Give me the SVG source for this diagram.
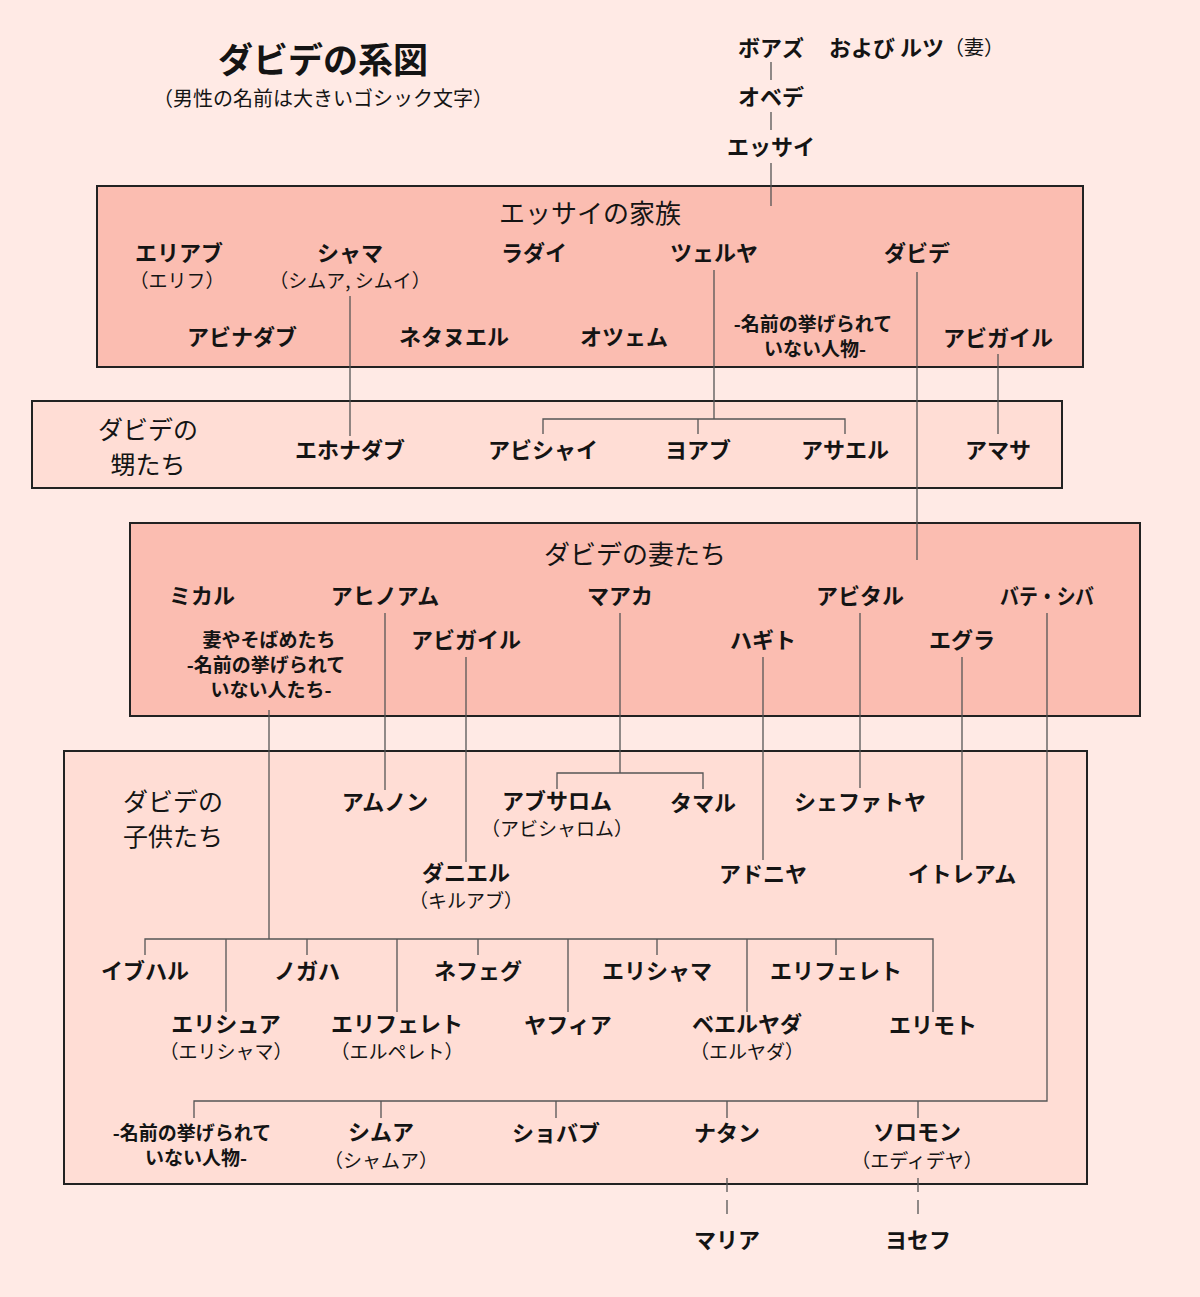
<svg xmlns="http://www.w3.org/2000/svg" width="1200" height="1297" viewBox="0 0 1200 1297">
<style>
text{font-family:"Noto Sans CJK JP","Noto Sans",sans-serif;fill:#141414;text-anchor:middle;dominant-baseline:central}
.n{font-size:22px;font-weight:700}
.s{font-size:19px;font-weight:400}
.h{font-size:26px;font-weight:400}
.h2{font-size:25px;font-weight:400}
.box{stroke:#222;stroke-width:2}
.dark{fill:#FBBDB1}
.light{fill:#FFDDD5}
.ln{stroke:#555;stroke-width:1.3;fill:none}
.dash{stroke:#555;stroke-width:1.3;fill:none;stroke-dasharray:14 8}
</style>
<rect width="1200" height="1297" fill="#FFEAE5"/>
<g id="boxes">
<rect id="box-jesse" class="box dark" x="97" y="186" width="986" height="181"/>
<rect id="box-nephews" class="box light" x="32" y="401" width="1030" height="87"/>
<rect id="box-wives" class="box dark" x="130" y="523" width="1010" height="193"/>
<rect id="box-children" class="box light" x="64" y="751" width="1023" height="433"/>
</g>
<g id="connectors">
<path class="ln" d="M771 62V80M771 112V130M771 163V206"/>
<path class="ln" d="M350 296V436"/>
<path class="ln" d="M714 270V419M543 434V419H845V434M698 419V434"/>
<path class="ln" d="M917 272V560"/>
<path class="ln" d="M998 354V434"/>
<path class="ln" d="M269 710V939"/>
<path class="ln" d="M385 613V790"/>
<path class="ln" d="M466 657V862"/>
<path class="ln" d="M620 613V773M557 789V773H703V789"/>
<path class="ln" d="M763 657V860"/>
<path class="ln" d="M860 613V788"/>
<path class="ln" d="M962 657V860"/>
<path class="ln" d="M1047 613V1101H194V1118M381 1101V1118M556 1101V1118M727 1101V1118M918 1101V1118"/>
<path class="ln" d="M145 955V939H933V1012M307 939V955M478 939V955M657 939V955M836 939V955M226 939V1012M397 939V1012M568 939V1012M747 939V1012"/>
<path class="dash" d="M727 1178V1216M918 1178V1216"/>
</g>
<g id="labels" transform="translate(0,-2)">
<g id="title">
<text x="323" y="59" style="font-size:35px;font-weight:700">ダビデの系図</text>
<text x="323" y="99" style="font-size:20px">（男性の名前は大きいゴシック文字）</text>
</g>
<g id="ancestors">
<g id="boaz"><text class="n" x="771" y="48">ボアズ</text><text class="n" x="829" y="48" style="text-anchor:start">および ルツ<tspan font-weight="400" font-size="20">（妻）</tspan></text></g>
<g id="obed"><text class="n" x="771" y="97">オベデ</text></g>
<g id="jesse"><text class="n" x="771" y="147">エッサイ</text></g>
</g>
<g id="jesse-family">
<text class="h" x="590" y="213">エッサイの家族</text>
<g id="eliab"><text class="n" x="179" y="253">エリアブ</text><text class="s" x="177" y="281">（エリフ）</text></g>
<g id="shammah"><text class="n" x="350" y="253">シャマ</text><text class="s" x="350" y="281">（シムア, シムイ）</text></g>
<g id="raddai"><text class="n" x="534" y="253">ラダイ</text></g>
<g id="zeruiah"><text class="n" x="714" y="253">ツェルヤ</text></g>
<g id="david"><text class="n" x="917" y="253">ダビデ</text></g>
<g id="abinadab"><text class="n" x="242" y="337">アビナダブ</text></g>
<g id="nethanel"><text class="n" x="454" y="337">ネタヌエル</text></g>
<g id="ozem"><text class="n" x="624" y="337">オツェム</text></g>
<g id="unnamed1"><text class="n" x="813" y="324" style="font-size:19px">-名前の挙げられて</text><text class="n" x="815" y="349" style="font-size:19px">いない人物-</text></g>
<g id="abigail1"><text class="n" x="998" y="338">アビガイル</text></g>
</g>
<g id="nephews">
<text class="h2" x="148" y="430">ダビデの</text>
<text class="h2" x="148" y="465">甥たち</text>
<g id="jonadab"><text class="n" x="350" y="450">エホナダブ</text></g>
<g id="abishai"><text class="n" x="543" y="450">アビシャイ</text></g>
<g id="joab"><text class="n" x="698" y="450">ヨアブ</text></g>
<g id="asahel"><text class="n" x="845" y="450">アサエル</text></g>
<g id="amasa"><text class="n" x="998" y="450">アマサ</text></g>
</g>
<g id="wives">
<text class="h" x="635" y="554">ダビデの妻たち</text>
<g id="michal"><text class="n" x="202" y="596">ミカル</text></g>
<g id="ahinoam"><text class="n" x="385" y="596">アヒノアム</text></g>
<g id="maacah"><text class="n" x="620" y="596">マアカ</text></g>
<g id="abital"><text class="n" x="860" y="596">アビタル</text></g>
<g id="bathsheba"><text class="n" x="1047" y="596" textLength="94" lengthAdjust="spacingAndGlyphs">バテ・シバ</text></g>
<g id="concubines"><text class="n" x="269" y="640" style="font-size:19px">妻やそばめたち</text><text class="n" x="266" y="665" style="font-size:19px">-名前の挙げられて</text><text class="n" x="271" y="690" style="font-size:19px">いない人たち-</text></g>
<g id="abigail2"><text class="n" x="466" y="640">アビガイル</text></g>
<g id="haggith"><text class="n" x="763" y="640">ハギト</text></g>
<g id="eglah"><text class="n" x="962" y="640">エグラ</text></g>
</g>
<g id="children">
<text class="h2" x="173" y="802">ダビデの</text>
<text class="h2" x="173" y="837">子供たち</text>
<g id="amnon"><text class="n" x="385" y="802">アムノン</text></g>
<g id="absalom"><text class="n" x="557" y="801">アブサロム</text><text class="s" x="557" y="829">（アビシャロム）</text></g>
<g id="tamar"><text class="n" x="703" y="803">タマル</text></g>
<g id="shephatiah"><text class="n" x="860" y="802">シェファトヤ</text></g>
<g id="daniel"><text class="n" x="466" y="873">ダニエル</text><text class="s" x="466" y="901">（キルアブ）</text></g>
<g id="adonijah"><text class="n" x="763" y="874">アドニヤ</text></g>
<g id="ithream"><text class="n" x="962" y="874">イトレアム</text></g>
<g id="ibhar"><text class="n" x="145" y="971">イブハル</text></g>
<g id="nogah"><text class="n" x="307" y="971">ノガハ</text></g>
<g id="nepheg"><text class="n" x="478" y="971">ネフェグ</text></g>
<g id="elishama"><text class="n" x="657" y="971">エリシャマ</text></g>
<g id="eliphelet1"><text class="n" x="836" y="971">エリフェレト</text></g>
<g id="elishua"><text class="n" x="226" y="1024">エリシュア</text><text class="s" x="226" y="1052">（エリシャマ）</text></g>
<g id="eliphelet2"><text class="n" x="397" y="1024">エリフェレト</text><text class="s" x="397" y="1052">（エルペレト）</text></g>
<g id="japhia"><text class="n" x="568" y="1025">ヤフィア</text></g>
<g id="beeliada"><text class="n" x="747" y="1024">ベエルヤダ</text><text class="s" x="747" y="1052">（エルヤダ）</text></g>
<g id="jerimoth"><text class="n" x="933" y="1025">エリモト</text></g>
<g id="unnamed2"><text class="n" x="192" y="1133" style="font-size:19px">-名前の挙げられて</text><text class="n" x="196" y="1158" style="font-size:19px">いない人物-</text></g>
<g id="shimea"><text class="n" x="381" y="1132">シムア</text><text class="s" x="381" y="1161">（シャムア）</text></g>
<g id="shobab"><text class="n" x="556" y="1133">ショバブ</text></g>
<g id="nathan"><text class="n" x="727" y="1133">ナタン</text></g>
<g id="solomon"><text class="n" x="917" y="1132">ソロモン</text><text class="s" x="917" y="1161">（エディデヤ）</text></g>
</g>
<g id="descendants">
<g id="mary"><text class="n" x="727" y="1240">マリア</text></g>
<g id="joseph"><text class="n" x="918" y="1240">ヨセフ</text></g>
</g>
</g>
</svg>
